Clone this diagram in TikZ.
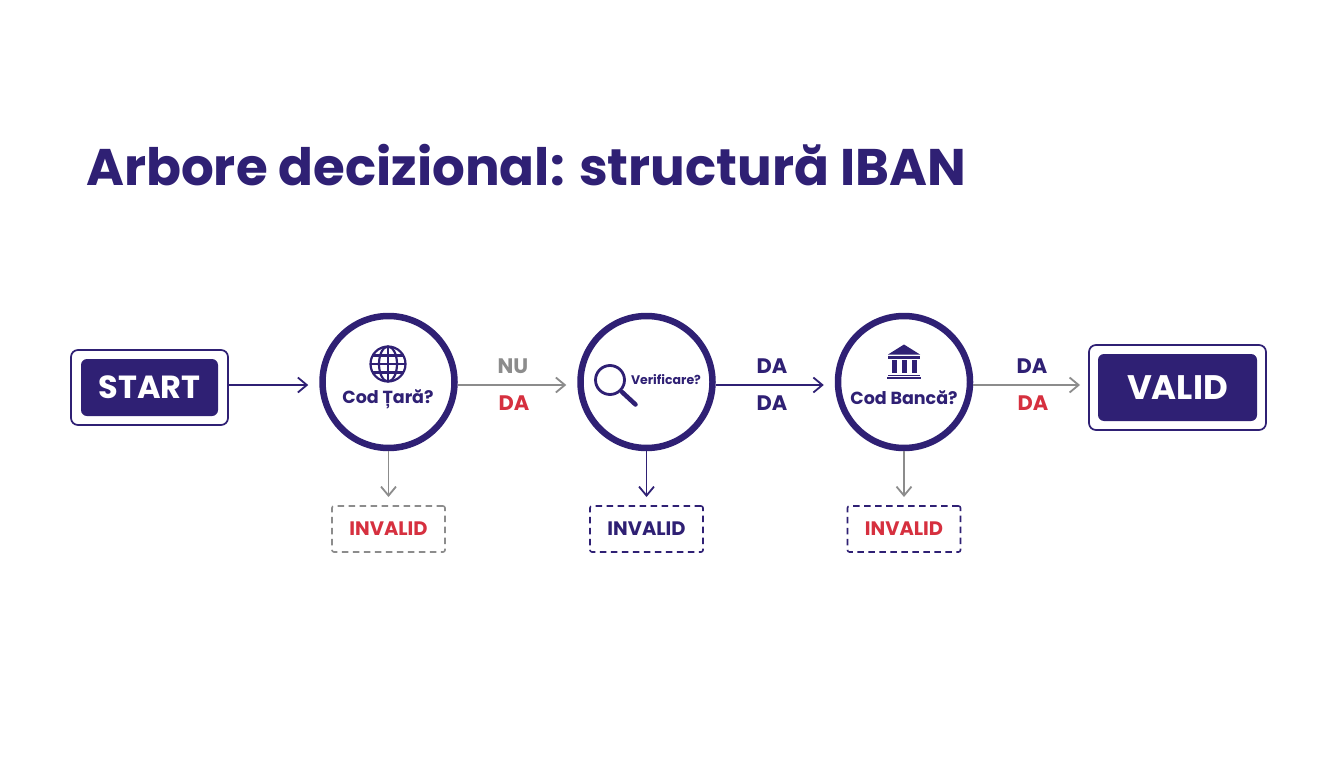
\documentclass[tikz,border=0pt]{standalone}
\usepackage{fontspec}
\setmainfont{Poppins}
\usetikzlibrary{arrows.meta}
\definecolor{navy}{HTML}{2F2074}
\definecolor{redt}{HTML}{D6303F}
\definecolor{grayl}{HTML}{8C8C8C}
\tikzset{
  outerbox/.style={draw=navy,line width=1.7pt,rounded corners=7pt,fill=white,inner sep=0pt,outer sep=0pt},
  innerbox/.style={fill=navy,rounded corners=6pt,text=white,inner sep=0pt,outer sep=0pt,align=center},
  decision/.style={circle,draw=navy,line width=6.5pt,fill=white,minimum size=132pt,inner sep=0pt,outer sep=3.25pt},
  invalidbox/.style={draw=navy,line width=1.6pt,dash pattern=on 6.5pt off 4.5pt,rounded corners=2pt,minimum width=113pt,minimum height=46pt,inner sep=0pt,outer sep=0pt,font=\fontsize{19.5}{19.5}\selectfont\bfseries},
  conn/.style={line width=1.8pt,-{Straight Barb[length=9pt,width=15pt,line width=1.8pt]}},
  lbl/.style={font=\fontsize{21}{21}\selectfont\bfseries,inner sep=0pt},
  celltext/.style={font=\fontsize{17.5}{17.5}\selectfont\bfseries,text=navy,inner sep=0pt},
  icon/.style={draw=navy,line width=2.2pt}
}
\begin{document}
\begin{tikzpicture}[x=1pt,y=-1pt]
\useasboundingbox[fill=white] (0,0) rectangle (1344,768);
\node[anchor=west,text=navy,inner sep=0pt,font=\fontsize{51.5}{51.5}\selectfont\bfseries] (title) at (86,165) {Arbore decizional: structură IBAN};

\node[outerbox,minimum width=157pt,minimum height=75pt] (startouter) at (149.5,387.5) {};
\node[innerbox,font=\fontsize{32}{32}\selectfont\bfseries,minimum width=137pt,minimum height=57pt] (start) at (149.5,387.5) {START};

\node[decision] (c1) at (388.5,382) {};
\node[decision] (c2) at (646.5,382) {};
\node[decision] (c3) at (904,382) {};

\node[outerbox,minimum width=177pt,minimum height=85pt] (validouter) at (1177.5,387.5) {};
\node[innerbox,font=\fontsize{34}{34}\selectfont\bfseries,minimum width=159pt,minimum height=67pt] (valid) at (1177.5,387.5) {VALID};

\node[invalidbox,draw=grayl,text=redt] (i1) at (388.5,529) {INVALID};
\node[invalidbox,text=navy] (i2) at (646.5,529) {INVALID};
\node[invalidbox,text=redt] (i3) at (904,529) {INVALID};

% connectors
\draw[conn,draw=navy,shorten >=11pt] ([yshift=2.5pt]startouter.east) -- ([yshift=-3pt]c1.west);
\draw[conn,draw=grayl,shorten >=11pt] ([yshift=-3pt]c1.east) -- ([yshift=-3pt]c2.west);
\draw[conn,draw=navy,shorten >=11pt] ([yshift=-3pt]c2.east) -- ([yshift=-3pt]c3.west);
\draw[conn,draw=grayl,shorten >=9pt] ([yshift=-3pt]c3.east) -- ([yshift=2.5pt]validouter.west);
\draw[conn,draw=grayl,shorten >=9pt] (c1.south) -- (i1.north);
\draw[conn,draw=navy,shorten >=9pt] (c2.south) -- (i2.north);
\draw[conn,draw=grayl,shorten >=9pt] (c3.south) -- (i3.north);

% edge labels
\node[lbl,text=grayl] (nu) at (513,366) {NU};
\node[lbl,text=redt] (da1) at (514,403) {DA};
\node[lbl,text=navy] (da2) at (772,366) {DA};
\node[lbl,text=navy] (da3) at (772,403) {DA};
\node[lbl,text=navy] (da4) at (1032,366) {DA};
\node[lbl,text=redt] (da5) at (1033,403) {DA};

% cell texts
\node[celltext] (t1) at (388,399) {Cod Țară?};
\node[celltext,font=\fontsize{12.5}{12.5}\selectfont\bfseries] (t2) at (666,380) {Verificare?};
\node[celltext] (t3) at (904,398) {Cod Bancă?};

% globe
\begin{scope}[shift={(388,364)},icon]
  \draw (0,0) circle (17.5);
  \draw (0,-17.5) -- (0,17.5);
  \draw (-17.5,0) -- (17.5,0);
  \draw (0,0) ellipse (9 and 17.5);
  \draw (-15,-8.5) -- (15,-8.5);
  \draw (-15,8.5) -- (15,8.5);
\end{scope}

% magnifier
\draw[icon,line width=2.8pt] (610,380) circle (14.5);
\draw[draw=navy,line width=4.5pt,line cap=round] (622,392) -- (635.5,404.5);

% bank
\fill[navy] (904,344.5) -- (920,354.5) -- (888,354.5) -- cycle;
\fill[navy] (888,356) rectangle (920,358.5);
\fill[navy] (891.5,360) rectangle (897,373);
\fill[navy] (901.5,360) rectangle (907,373);
\fill[navy] (911.5,360) rectangle (917,373);
\fill[navy] (888,374.5) rectangle (920,376);
\fill[navy] (887,377) rectangle (921,379);
\end{tikzpicture}
\end{document}
